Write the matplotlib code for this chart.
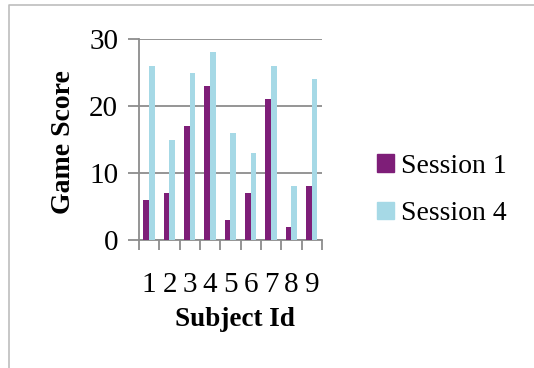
import numpy as np
import matplotlib.pyplot as plt
from matplotlib.lines import Line2D
from matplotlib.patches import Patch

subjects = ['1', '2', '3', '4', '5', '6', '7', '8', '9']
session1 = [6, 7, 17, 23, 3, 7, 21, 2, 8]
session4 = [26, 15, 25, 28, 16, 13, 26, 8, 24]

purple = '#7E1E78'
blue = '#A6D9E6'
grey = '#8C8C8C'

plt.rcParams['font.family'] = ['Liberation Serif', 'DejaVu Serif']

fig = plt.figure(figsize=(5.34, 3.68), dpi=100)
ax = fig.add_axes([139 / 534, 1 - 240 / 368, 183 / 534, 201 / 368])

x = np.arange(len(subjects))
w = 0.28
ax.bar(x - 0.15, session1, w, color=purple, zorder=3)
ax.bar(x + 0.13, session4, w, color=blue, zorder=3)

ax.set_xlim(-0.5, len(subjects) - 0.5)
ax.set_ylim(0, 30)
ax.set_yticks([0, 10, 20, 30])
ax.grid(axis='y', color=grey, linewidth=1.3, zorder=0)

# boundary ticks without labels, labels on minor ticks at bar centres
ax.set_xticks(np.arange(-0.5, len(subjects), 1.0))
ax.set_xticklabels([])
ax.set_xticks(x, minor=True)
ax.set_xticklabels(subjects, minor=True, fontsize=21)
ax.tick_params(axis='x', which='major', length=7, width=1.3, color=grey, direction='out')
ax.tick_params(axis='x', which='minor', length=0, pad=23)
ax.tick_params(axis='y', length=8, width=1.3, color=grey, labelsize=21, pad=7)

for s in ['top', 'right']:
    ax.spines[s].set_visible(False)
for s in ['left', 'bottom']:
    ax.spines[s].set_color(grey)
    ax.spines[s].set_linewidth(1.3)

fig.text(64 / 534, 1 - 142 / 368, 'Game Score', rotation=90, fontsize=20,
         fontweight='bold', ha='center', va='center')
fig.text(235 / 534, 1 - 320 / 368, 'Subject Id', fontsize=19.5,
         fontweight='bold', ha='center', va='center')

handles = [Patch(color=purple), Patch(color=blue)]
fig.legend(handles, ['Session 1', 'Session 4'], loc='center left',
           bbox_to_anchor=(377 / 534, 1 - 190 / 368), frameon=False,
           fontsize=20, handlelength=0.6, handleheight=0.6,
           handletextpad=0.25, labelspacing=0.8, borderpad=0, borderaxespad=0)

# outer chart frame (only top and left edges visible)
fig.add_artist(Line2D([8.5 / 534, 8.5 / 534, 1], [0, 1 - 5 / 368, 1 - 5 / 368],
                      color='#BDBDBD', linewidth=1.2))

fig.savefig('out.png', dpi=100)
